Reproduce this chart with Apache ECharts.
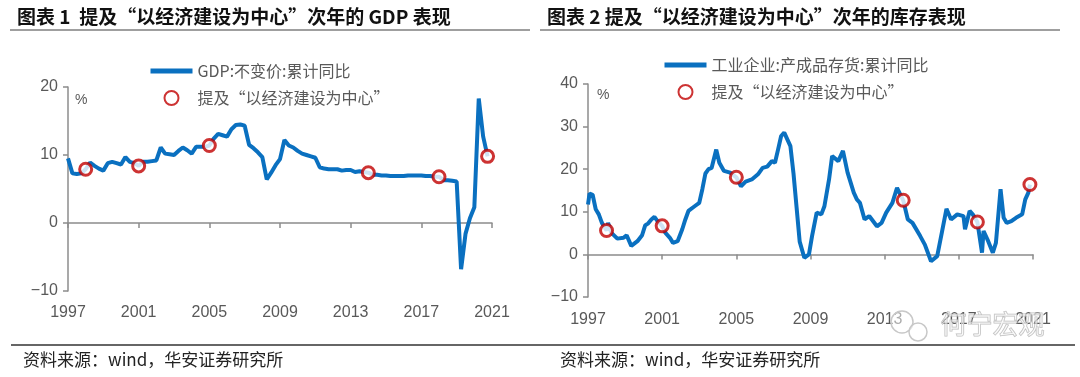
<!DOCTYPE html>
<html>
<head>
<meta charset="utf-8">
<script src="https://cdn.jsdelivr.net/npm/echarts@6/dist/echarts.min.js"></script>
<style>
  html, body { margin: 0; padding: 0; background: #fff; }
  #chart { width: 1080px; height: 377px; }
</style>
</head>
<body>
<div id="chart"></div>
<script>
// tick labels shared by both panels
let yearLabels = ['1997', '2001', '2005', '2009', '2013', '2017', '2021'];

// GDP constant price, cumulative yoy, quarterly from 1997Q4
let gdpStart = [1997, 4];
let gdpValues = [
  9.5,
  7.3, 7.2, 7.3, 7.9,
  8.9, 8.4, 8.0, 7.7,
  8.8, 9.0, 8.8, 8.6,
  9.7, 9.0, 8.8, 8.4,
  9.0, 9.0, 9.1, 9.2,
  11.1, 10.2, 10.1, 10.0,
  10.6, 11.1, 10.7, 10.2,
  11.2, 11.2, 11.2, 11.4,
  12.4, 13.1, 12.9, 12.7,
  13.8, 14.4, 14.5, 14.3,
  11.5, 11.0, 10.4, 9.7,
  6.4, 7.4, 8.5, 9.4,
  12.2, 11.4, 11.1, 10.6,
  10.2, 10.0, 9.8, 9.6,
  8.2, 8.0, 7.9, 7.9,
  7.9, 7.7, 7.8, 7.8,
  7.5, 7.6, 7.5, 7.4,
  7.1, 7.1, 7.0, 7.0,
  6.9, 6.9, 6.9, 6.9,
  7.0, 7.0, 7.0, 7.0,
  6.9, 6.9, 6.8, 6.8,
  6.3, 6.3, 6.2, 6.1,
  -6.8, -1.6, 0.7, 2.3,
  18.3, 12.7, 9.8
];
let gdpMarkQuarters = ['1998Q4', '2001Q4', '2005Q4', '2014Q4', '2018Q4', '2021Q3'];
let gdpMarkValues = [7.9, 8.4, 11.4, 7.4, 6.8, 9.8];

// industrial finished goods inventory, cumulative yoy
let invDates = [
  '1997-12', '1998-01', '1998-03', '1998-05', '1998-07', '1998-09', '1998-12',
  '1999-01', '1999-03', '1999-07', '1999-11',
  '2000-01', '2000-04', '2000-08', '2000-11',
  '2001-01', '2001-03', '2001-05', '2001-07', '2001-09', '2001-12',
  '2002-02', '2002-05', '2002-07', '2002-10',
  '2003-01', '2003-03', '2003-05', '2003-09', '2003-12',
  '2004-02', '2004-04', '2004-06', '2004-08', '2004-11',
  '2005-01', '2005-04', '2005-08', '2005-12',
  '2006-03', '2006-06', '2006-10',
  '2007-02', '2007-05', '2007-08', '2007-11',
  '2008-01', '2008-03', '2008-05', '2008-07', '2008-11',
  '2009-01', '2009-03', '2009-05', '2009-08', '2009-11',
  '2010-01', '2010-04', '2010-07', '2010-09', '2010-12',
  '2011-02', '2011-06', '2011-09', '2011-12',
  '2012-04', '2012-06', '2012-08', '2012-11',
  '2013-02', '2013-07', '2013-10',
  '2014-01', '2014-05', '2014-08', '2014-12',
  '2015-03', '2015-06', '2015-11',
  '2016-02', '2016-06', '2016-10',
  '2017-01', '2017-04', '2017-07', '2017-11',
  '2018-03', '2018-04', '2018-07', '2018-09', '2018-12',
  '2019-03', '2019-04', '2019-07', '2019-10', '2019-12',
  '2020-03', '2020-05', '2020-07', '2020-10',
  '2021-01', '2021-05', '2021-07', '2021-09', '2021-10'
];
let invValues = [
  11.7, 14.3, 14.0, 10.6, 9.4, 7.4, 5.6,
  7.4, 5.1, 3.7, 3.9,
  4.5, 2.0, 3.1, 4.5,
  6.8, 7.3, 8.2, 8.8, 7.8, 6.7,
  5.1, 3.9, 2.7, 3.1,
  5.9, 8.2, 10.2, 11.3, 12.1,
  15.3, 19.0, 20.0, 20.3, 24.6,
  21.5, 19.6, 19.2, 18.1,
  16.0, 17.1, 17.6,
  18.8, 20.3, 20.6, 21.9,
  21.5, 24.6, 27.8, 28.6, 25.4,
  19.0, 11.0, 3.0, -0.8, 0.0,
  4.3, 9.8, 9.4, 11.3, 17.6,
  23.1, 21.9, 24.3, 19.2,
  14.5, 12.9, 12.1, 8.2,
  9.0, 6.6, 7.4,
  9.8, 12.1, 15.6, 12.7,
  8.2, 7.4, 4.3,
  2.3, -1.6, -0.4,
  5.1, 10.7, 8.2, 9.4,
  9.0, 5.9, 10.2, 9.4, 7.6,
  0.4, 5.5, 3.1, 0.4, 2.7,
  15.3, 8.6, 7.4, 7.8,
  8.6, 9.4, 12.9, 14.5, 16.4
];
let invMarkDates = ['1998-12', '2001-12', '2005-12', '2014-12', '2018-12', '2021-10'];
let invMarkValues = [5.6, 6.7, 18.1, 12.7, 7.6, 16.4];

let gdpName = 'GDP:不变价:累计同比';
let invName = '工业企业:产成品存货:累计同比';
let markName = '提及“以经济建设为中心”';

// quarter index counted from 1997Q4, month index counted from 1997-12
let quarterIndex = function (q) {
  let y = parseInt(q.slice(0, 4)), n = parseInt(q.slice(5));
  return (y - gdpStart[0]) * 4 + (n - gdpStart[1]);
};
let monthIndex = function (d) {
  let y = parseInt(d.slice(0, 4)), m = parseInt(d.slice(5));
  return (y - 1997) * 12 + (m - 12);
};

let blue = '#0a70c0';
let red = '#c00000';
let axisGrey = '#8c8c8c';
let textGrey = '#595959';
let cjk = '"Noto Sans CJK SC", sans-serif';
let latin = '"Liberation Sans", Arial, sans-serif';

let minus = function (v) {
  return v < 0 ? '\u2212' + Math.abs(v) : String(v);
};

let zeroAxis = function (grid, max) {
  return {
    gridIndex: grid, type: 'value', position: 'bottom', min: 0, max: max, interval: max / 6,
    axisLine: {onZero: true, lineStyle: {color: axisGrey, width: 1.5}},
    axisTick: {length: 5, lineStyle: {color: axisGrey, width: 1.5}},
    axisLabel: {show: false},
    splitLine: {show: false}
  };
};
let labelAxis = function (grid, max, margin) {
  return {
    gridIndex: grid, type: 'value', position: 'bottom', min: 0, max: max, interval: max / 6,
    axisLine: {show: false, onZero: false},
    axisTick: {show: false},
    axisLabel: {
      margin: margin, color: textGrey, fontSize: 16, fontFamily: latin,
      formatter: function (v) { return yearLabels[Math.round(v / (max / 6))]; }
    },
    splitLine: {show: false}
  };
};
let valueAxis = function (grid, min, max) {
  return {
    gridIndex: grid, type: 'value', min: min, max: max, interval: 10,
    axisLine: {show: true, lineStyle: {color: axisGrey, width: 1.5}},
    axisTick: {show: true, length: 5, lineStyle: {color: axisGrey, width: 1.5}},
    axisLabel: {margin: 10, color: textGrey, fontSize: 16, fontFamily: latin, formatter: minus},
    splitLine: {show: false}
  };
};

let markStyle = {color: '#fff', borderColor: red, borderWidth: 3};
let legendText = {color: textGrey, fontSize: 16, fontFamily: cjk};
let legendLine = {itemStyle: {opacity: 0}, lineStyle: {width: 5, color: blue}};

let myChart = echarts.init(document.getElementById('chart'), null, {renderer: 'canvas'});
let option = {
  backgroundColor: '#fff',
  animation: false,
  title: [
    {text: '图表 1  提及“以经济建设为中心”次年的 GDP 表现', left: 12, top: 2,
      textStyle: {fontSize: 19, fontWeight: 'bold', color: '#111', fontFamily: cjk}},
    {text: '图表 2 提及“以经济建设为中心”次年的库存表现', left: 542, top: 2,
      textStyle: {fontSize: 19, fontWeight: 'bold', color: '#111', fontFamily: cjk}}
  ],
  legend: [
    {left: 143, top: 58, orient: 'vertical', itemWidth: 42, itemHeight: 14, itemGap: 11,
      data: [Object.assign({name: gdpName}, legendLine), markName], textStyle: legendText, selectedMode: false},
    {left: 657, top: 52, orient: 'vertical', itemWidth: 42, itemHeight: 14, itemGap: 11,
      data: [Object.assign({name: invName}, legendLine), markName], textStyle: legendText, selectedMode: false}
  ],
  grid: [
    {left: 68, top: 87, width: 424, height: 204, outerBoundsMode: 'none'},
    {left: 588, top: 84, width: 445, height: 213, outerBoundsMode: 'none'}
  ],
  xAxis: [zeroAxis(0, 96), labelAxis(0, 96, 14), zeroAxis(1, 288), labelAxis(1, 288, 15)],
  yAxis: [valueAxis(0, -10, 20), valueAxis(1, -10, 40)],
  series: [
    {
      name: gdpName, type: 'line', xAxisIndex: 0, yAxisIndex: 0,
      symbol: 'none', lineStyle: {color: blue, width: 4}, itemStyle: {color: blue},
      data: gdpValues.map(function (v, i) { return [i, v]; }), z: 2
    },
    {
      name: markName, type: 'scatter', xAxisIndex: 0, yAxisIndex: 0,
      symbol: 'circle', symbolSize: 12, itemStyle: markStyle,
      data: gdpMarkQuarters.map(function (q, i) { return [quarterIndex(q), gdpMarkValues[i]]; }), z: 3
    },
    {
      name: invName, type: 'line', xAxisIndex: 2, yAxisIndex: 1,
      symbol: 'none', lineStyle: {color: blue, width: 4}, itemStyle: {color: blue},
      data: invDates.map(function (d, i) { return [monthIndex(d), invValues[i]]; }), z: 2
    },
    {
      name: markName, type: 'scatter', xAxisIndex: 2, yAxisIndex: 1,
      symbol: 'circle', symbolSize: 12, itemStyle: markStyle,
      data: invMarkDates.map(function (d, i) { return [monthIndex(d), invMarkValues[i]]; }), z: 3
    }
  ],
  graphic: [
    {type: 'line', shape: {x1: 10, y1: 30, x2: 530, y2: 30}, style: {stroke: '#7f7f7f', lineWidth: 1.5}},
    {type: 'line', shape: {x1: 540, y1: 30, x2: 1060, y2: 30}, style: {stroke: '#7f7f7f', lineWidth: 1.5}},
    {type: 'line', shape: {x1: 11, y1: 345, x2: 1075, y2: 345}, style: {stroke: '#333', lineWidth: 1.5}},
    {type: 'text', left: 75, top: 93, style: {text: '%', fill: textGrey, font: '14px "Liberation Sans"'}},
    {type: 'text', left: 597, top: 88, style: {text: '%', fill: textGrey, font: '14px "Liberation Sans"'}},
    {type: 'text', left: 23, top: 351, style: {text: '资料来源：wind，华安证券研究所', fill: '#222', font: '17px "Noto Sans CJK SC"'}},
    {type: 'text', left: 560, top: 351, style: {text: '资料来源：wind，华安证券研究所', fill: '#222', font: '17px "Noto Sans CJK SC"'}},
    // watermark
    {type: 'circle', shape: {cx: 902, cy: 322, r: 11}, style: {fill: 'rgba(255,255,255,0.5)', stroke: '#c8c8c8', lineWidth: 1.5}, z: 100},
    {type: 'circle', shape: {cx: 918, cy: 332, r: 9}, style: {fill: 'rgba(255,255,255,0.5)', stroke: '#c8c8c8', lineWidth: 1.5}, z: 100},
    {type: 'text', left: 940, top: 311, z: 100,
      style: {text: '何宁宏观', fill: 'rgba(255,255,255,0.4)', stroke: '#bdbdbd', lineWidth: 1, font: '26px "Noto Sans CJK SC"'}}
  ]
};
myChart.setOption(option);
</script>
</body>
</html>
